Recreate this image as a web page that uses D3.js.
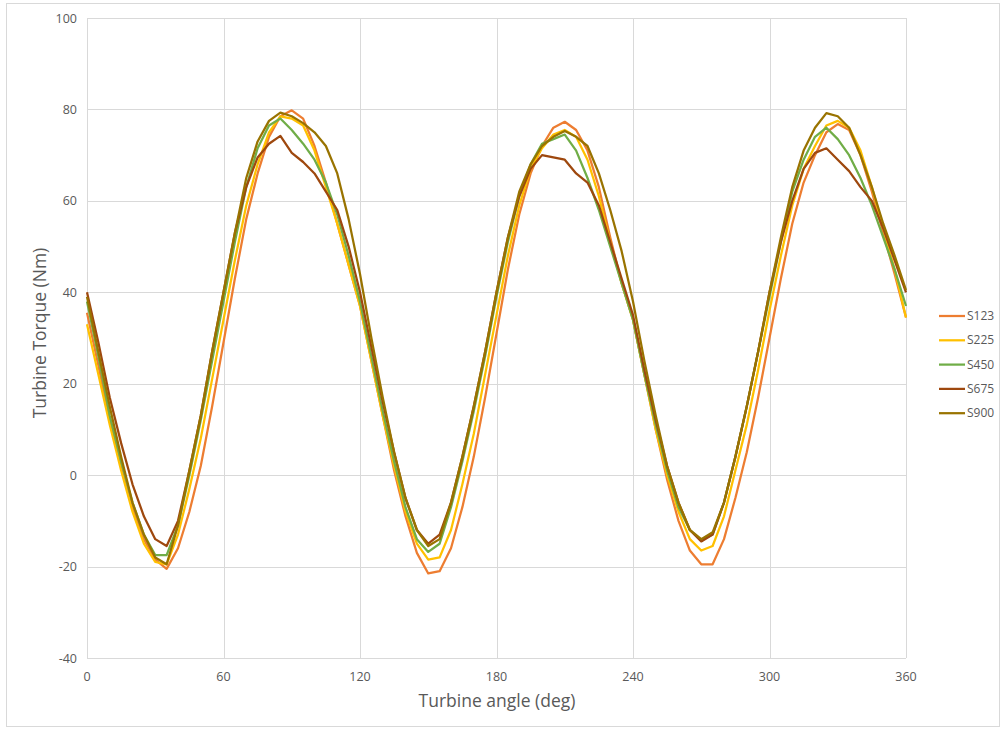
<!DOCTYPE html>
<html>
<head>
<meta charset="utf-8">
<script src="https://cdn.jsdelivr.net/npm/d3@7"></script>
<style>
  body { margin: 0; background: #fff; }
  text { font-family: "Open Sans", "Liberation Sans", sans-serif; fill: #595959; }
</style>
</head>
<body>
<svg id="chart" width="1002" height="729"></svg>
<script>
var angles = d3.range(0, 361, 5);

var seriesNames = ["S123", "S225", "S450", "S675", "S900"];
var seriesColors = ["#ED7D31", "#FFC000", "#70AD47", "#9E480E", "#997300"];

var s123 = [35.5, 24, 12, 2, -7, -14, -18.5, -20.5, -16, -8, 2, 15, 29, 43, 56, 66, 74, 78.5, 79.8, 78, 72, 64, 55, 46, 37,
  25, 13, 1, -9, -17, -21.5, -21, -16, -7, 4, 17, 31, 45, 57, 66, 72, 76, 77.3, 75.5, 71, 63, 52, 42, 34,
  22, 10, -1, -10, -16.5, -19.5, -19.5, -14, -5, 5, 17, 30, 43, 55, 64, 70, 75, 76.8, 75.5, 70, 62, 53, 44, 34.5];
var s225 = [33, 22, 11, 1, -8, -15, -19, -19.5, -13, -3, 8, 21, 34, 47, 59, 68, 75, 78.5, 78, 76.5, 71, 63, 55, 46, 37,
  25, 13, 2, -8, -15, -18.5, -18, -12, -2, 9, 22, 35, 48, 59, 67, 71.5, 74.5, 75.5, 74, 69, 61, 51, 42, 34,
  22, 10, 0, -8, -14, -16.5, -15.5, -9, 1, 11, 23, 36, 48, 59, 67, 72, 76.5, 77.5, 76, 71, 63, 54, 45, 34.5];
var s450 = [38, 26, 13, 3, -6, -13, -17.5, -17.5, -11, 0, 12, 25, 38, 51, 63, 71.5, 76.5, 78, 75.5, 72.5, 69, 64, 57, 48, 38,
  26, 14, 3, -7, -14, -16.8, -15, -7, 3, 14, 26, 39, 51, 61, 68, 72.5, 73.5, 74.5, 71, 65, 58, 50, 42, 34,
  22, 11, 1, -7, -12, -14.3, -13, -6, 4, 15, 27, 39, 51, 62, 69, 74, 76, 73.5, 70, 65, 59, 52, 45, 37];
var s675 = [40, 29, 17, 7, -2, -9, -14, -15.5, -10, 1, 13, 27, 40, 53, 63, 69.5, 72.5, 74.2, 70.5, 68.5, 66, 62, 58, 50, 40,
  28, 16, 5, -5, -12, -15, -13, -6, 4, 15, 27, 40, 52, 61, 67, 70, 69.5, 69, 66, 64, 59, 51, 43, 35,
  23, 12, 2, -6, -12, -14.5, -13, -6, 4, 15, 27, 40, 51, 60, 67, 70.5, 71.5, 69, 66.5, 63, 60, 54, 47, 40];
var s900 = [39, 27, 15, 4, -6, -13, -18, -19.5, -11, 1, 13, 27, 40, 53, 65, 73, 77.5, 79.3, 78.5, 77, 75, 72, 66, 56, 44,
  30, 17, 5, -5, -12, -15.5, -14, -6, 4, 15, 27, 40, 52, 62, 68, 72, 74, 75.3, 74, 72, 66, 58, 49, 38,
  25, 13, 2, -6, -12, -14, -12.5, -6, 4, 15, 27, 40, 52, 63, 71, 76, 79.2, 78.5, 76, 70, 63, 55, 48, 40.5];
var seriesValues = [s123, s225, s450, s675, s900];

var xTicks = [0, 60, 120, 180, 240, 300, 360];
var yTicks = [-40, -20, 0, 20, 40, 60, 80, 100];

var svg = d3.select("#chart");

// outer chart border
svg.append("rect").attr("x", 6.5).attr("y", 3.5).attr("width", 993).attr("height", 723)
  .attr("fill", "none").attr("stroke", "#d9d9d9");

var x = d3.scaleLinear().domain([0, 360]).range([87, 906]);
var y = d3.scaleLinear().domain([-40, 100]).range([658, 18]);

// grid
svg.append("g").selectAll("line").data(yTicks).enter().append("line")
  .attr("x1", 87).attr("x2", 906)
  .attr("y1", function(d) { return Math.round(y(d)) + 0.5; })
  .attr("y2", function(d) { return Math.round(y(d)) + 0.5; })
  .attr("stroke", "#d9d9d9");
svg.append("g").selectAll("line").data(xTicks).enter().append("line")
  .attr("y1", 18).attr("y2", 658)
  .attr("x1", function(d) { return Math.round(x(d)) + 0.5; })
  .attr("x2", function(d) { return Math.round(x(d)) + 0.5; })
  .attr("stroke", "#d9d9d9");

// tick labels
svg.append("g").selectAll("text").data(yTicks).enter().append("text")
  .attr("x", 77).attr("y", function(d) { return y(d) + 4.5; })
  .attr("text-anchor", "end").attr("font-size", 12.5)
  .text(function(d) { return d; });
svg.append("g").selectAll("text").data(xTicks).enter().append("text")
  .attr("x", function(d) { return x(d); }).attr("y", 681)
  .attr("text-anchor", "middle").attr("font-size", 12.5)
  .text(function(d) { return d; });

// axis titles
svg.append("text").attr("x", 497).attr("y", 707).attr("text-anchor", "middle")
  .attr("font-size", 17.5).text("Turbine angle (deg)");
svg.append("text").attr("transform", "translate(46,333) rotate(-90)").attr("text-anchor", "middle")
  .attr("font-size", 17.5).text("Turbine Torque (Nm)");

// lines
var line = d3.line()
  .x(function(d, i) { return x(angles[i]); })
  .y(function(d) { return y(d); });

svg.append("g").selectAll("path").data(seriesValues).enter().append("path")
  .attr("d", line)
  .attr("fill", "none")
  .attr("stroke", function(d, i) { return seriesColors[i]; })
  .attr("stroke-width", 2.25)
  .attr("stroke-linejoin", "round");

// legend
var legend = svg.append("g").selectAll("g").data(seriesNames).enter().append("g");
legend.append("line")
  .attr("x1", 939).attr("x2", 965)
  .attr("y1", function(d, i) { return 316 + i * 24.3; })
  .attr("y2", function(d, i) { return 316 + i * 24.3; })
  .attr("stroke", function(d, i) { return seriesColors[i]; })
  .attr("stroke-width", 2.25);
legend.append("text")
  .attr("x", 967).attr("y", function(d, i) { return 316 + i * 24.3 + 4; })
  .attr("font-size", 12)
  .text(function(d) { return d; });
</script>
</body>
</html>
